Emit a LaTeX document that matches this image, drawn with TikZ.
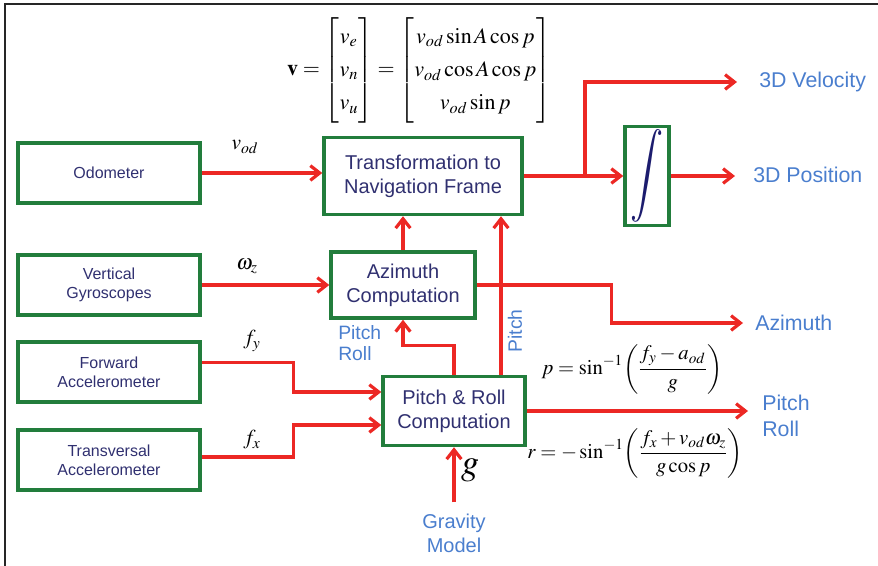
\documentclass[tikz,border=0pt]{standalone}
\usepackage{amsmath}
\usepackage{mathptmx}
\usepackage[no-math]{fontspec}
\setmainfont{Liberation Sans}
\usepackage{tikz}
\usetikzlibrary{positioning,arrows.meta,calc}

\definecolor{boxgreen}{RGB}{34,125,60}
\definecolor{flowred}{RGB}{236,40,36}
\definecolor{lblblue}{RGB}{74,126,206}
\definecolor{boxtext}{RGB}{48,48,112}
\definecolor{intnavy}{RGB}{28,28,110}

\tikzset{
  blk/.style={draw=boxgreen, line width=2.6pt, text=boxtext, align=center, inner sep=0pt},
  sensor/.style={blk, minimum width=136.5pt, minimum height=45pt, font=\fontsize{12}{14}\selectfont},
  comp/.style={blk, font=\fontsize{15}{18}\selectfont},
  flow/.style={draw=flowred, line width=2.4pt, -{Straight Barb[length=7pt,width=11pt,line width=2.4pt]}},
  outlbl/.style={text=lblblue, font=\fontsize{16}{19}\selectfont, align=left, anchor=west, inner sep=0pt},
  sig/.style={font=\fontsize{16}{18}\selectfont, inner sep=0pt}
}

\begin{document}
\begin{tikzpicture}[x=0.75pt, y=-0.75pt]
% pixel grid of the original figure, origin top left
\useasboundingbox (0,0) rectangle (878,566);
\draw[line width=1.4pt, black!85] (5,566) -- (5,4) -- (878,4);

% sensors
\node[sensor] (odo)  at (109,173) {Odometer};
\node[sensor] (gyro) at (109,285) {Vertical\\Gyroscopes};
\node[sensor] (fwd)  at (109,372) {Forward\\Accelerometer};
\node[sensor] (tra)  at (109,460) {Transversal\\Accelerometer};

% computation blocks
\node[comp, minimum width=148.5pt, minimum height=57.75pt] (tnf) at (423,176) {Transformation to\\Navigation Frame};
\node[comp, minimum width=108pt, minimum height=49.5pt] (azi) at (403,285) {Azimuth\\Computation};
\node[comp, minimum width=106.5pt, minimum height=51.75pt] (prc) at (454,411) {Pitch \& Roll\\Computation};
\node[blk, minimum width=33pt, minimum height=74.25pt, text=intnavy, font=\fontsize{24}{24}\selectfont] (intg) at (647,176) {\scalebox{1.15}[1.45]{$\displaystyle\int$}};

% outputs and inputs
\node[outlbl] (vel)    at (759,82)  {3D Velocity};
\node[outlbl] (pos)    at (753,175) {3D Position};
\node[outlbl] (aziout) at (755,323) {Azimuth};
\node[outlbl] (prout)  at (762,416) {Pitch\\Roll};
\node[text=lblblue, font=\fontsize{15}{18}\selectfont, align=center] (grav) at (454,533) {Gravity\\Model};

% equations
\node[font=\fontsize{16.5}{20}\selectfont] (veq) at (419,70)
  {$\renewcommand{\arraystretch}{1.25}\mathbf{v}=\begin{bmatrix} v_e\\ v_n\\ v_u\end{bmatrix}=\begin{bmatrix} v_{od}\sin A\cos p\\ v_{od}\cos A\cos p\\ v_{od}\sin p\end{bmatrix}$};
\node[font=\fontsize{15.5}{18}\selectfont] (peq) at (632,369)
  {$p=\sin^{-1}\!\left(\dfrac{f_y-a_{od}}{g}\right)$};
\node[font=\fontsize{15.5}{18}\selectfont] (req) at (635,453)
  {$r=-\sin^{-1}\!\left(\dfrac{f_x+v_{od}\omega_z}{g\cos p}\right)$};

% signal labels
\node[sig] (lvod) at (245,147) {$v_{od}$};
\node[sig] (lwz)  at (247,266) {$\omega_z$};
\node[sig] (lfy)  at (252,341) {$f_y$};
\node[sig] (lfx)  at (252,440) {$f_x$};
\node[font=\fontsize{27}{27}\selectfont, inner sep=0pt] (lg) at (470,470) {$g$};
\node[text=lblblue, font=\fontsize{14.5}{16}\selectfont, align=left, anchor=north west, inner sep=0pt] (lpr) at (338,325) {Pitch\\Roll};
\node[text=lblblue, font=\fontsize{14.5}{16}\selectfont, rotate=90, inner sep=0pt] (lpitch) at (515,331) {Pitch};

% connectors
\coordinate (br) at (585,176);
\coordinate (pt) at ([xshift=35.25pt]prc.north);
\draw[flow] (odo.east) -- (odo.east -| tnf.west);
\draw[flow] (gyro.east) -- (gyro.east -| azi.west);
\draw[flow] ([yshift=7pt]fwd.east) -- ++(92,0) |- ([yshift=14.25pt]prc.west);
\draw[flow] ([yshift=2.25pt]tra.east) -- ++(92,0) |- ([yshift=-10.5pt]prc.west);
\draw[flow] (azi.north) -- (azi.north |- tnf.south);
\draw[flow] (prc.north) -- ++(0,-29) -| (azi.south);
\draw[flow] (pt) -- (pt |- tnf.south);
\draw[flow] (tnf.east) -- (tnf.east -| intg.west);
\draw[flow, shorten >=16.5pt] (br) |- (vel.west);
\draw[flow, shorten >=13.5pt] (intg.east) -- (intg.east -| pos.west);
\draw[flow, shorten >=9pt] (azi.east) -- ++(135,0) |- (aziout.west);
\draw[flow, shorten >=10.5pt] (prc.east) -- (prc.east -| prout.west);
\draw[flow, shorten <=5pt] (grav.north) -- (prc.south);
\end{tikzpicture}
\end{document}
